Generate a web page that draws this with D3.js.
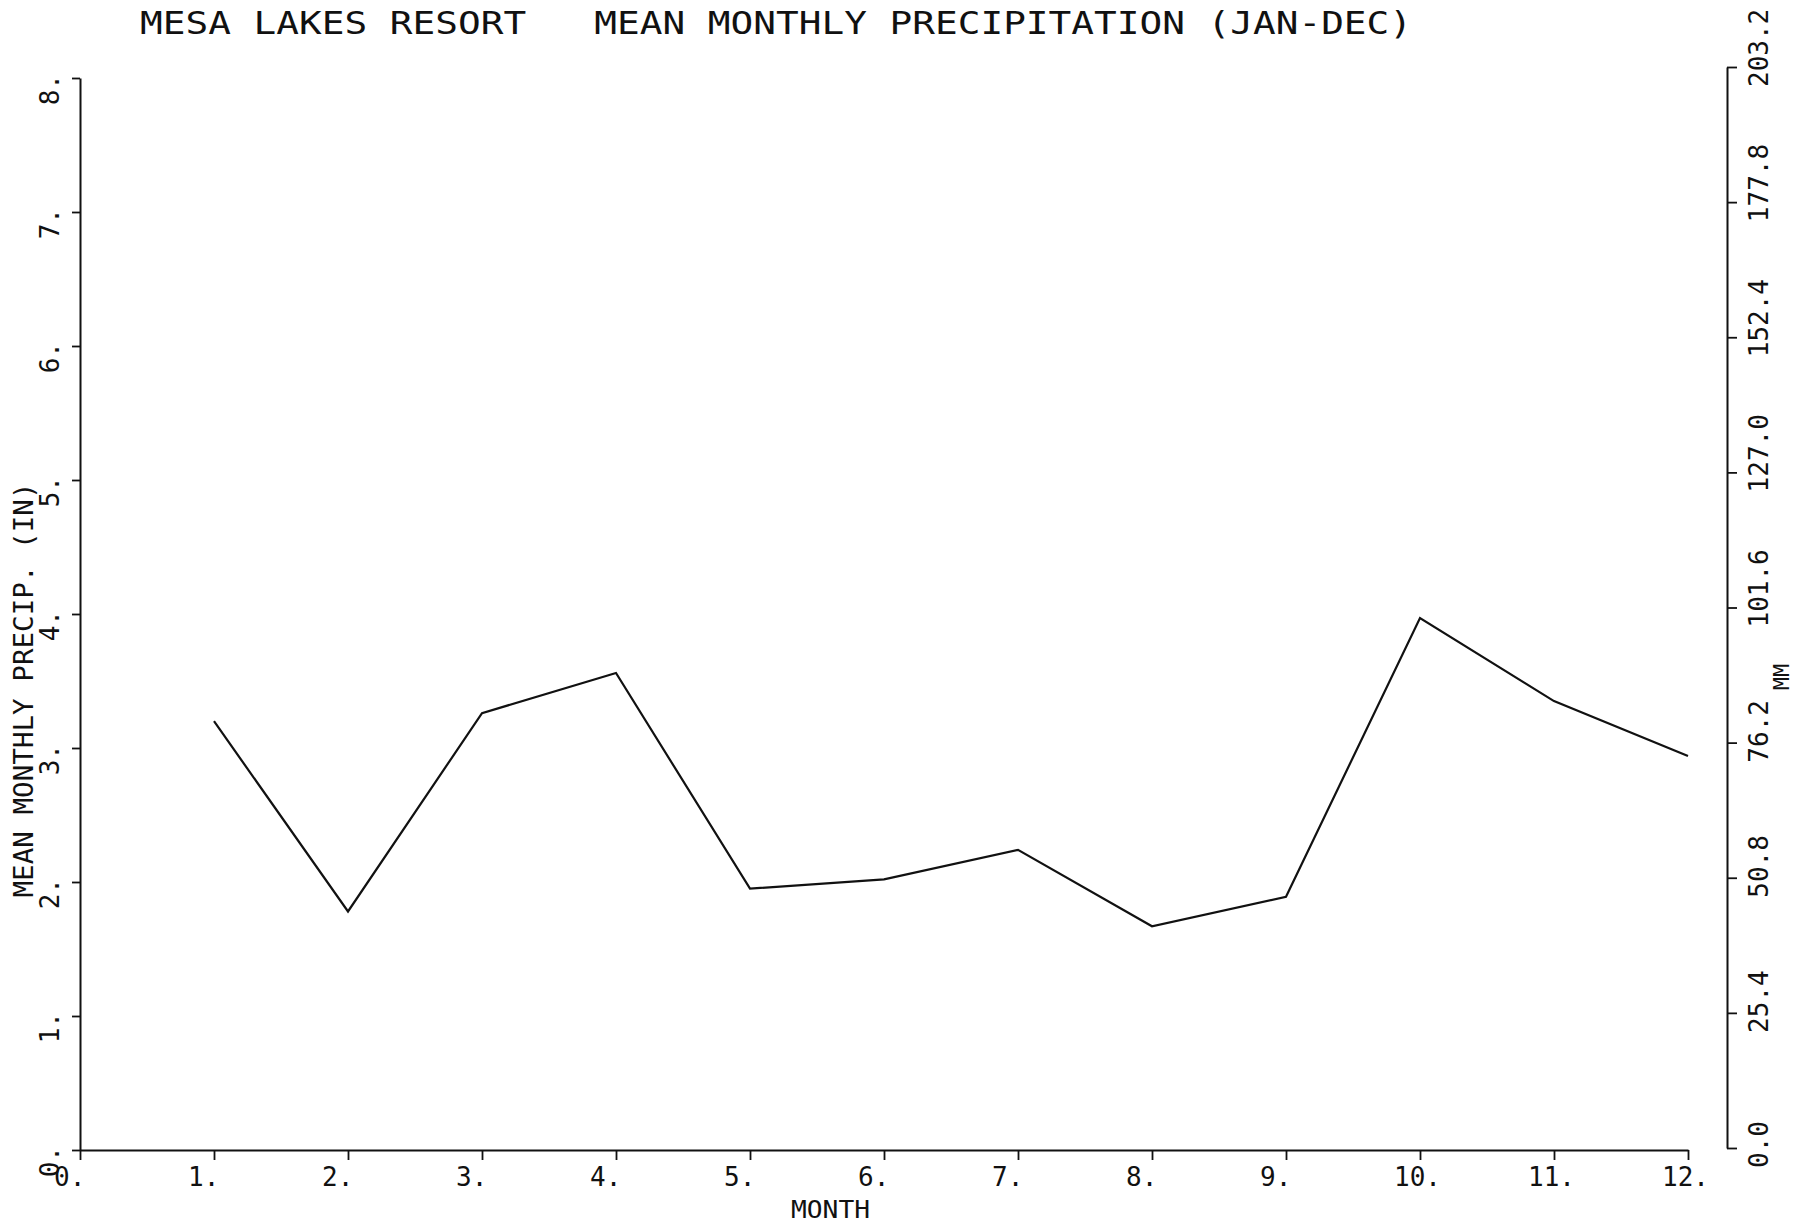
<!DOCTYPE html>
<html><head><meta charset="utf-8">
<script src="https://cdn.jsdelivr.net/npm/d3@7"></script>
<style>body{margin:0;background:#fff}svg{display:block}</style>
</head><body>
<script>
const months = [1,2,3,4,5,6,7,8,9,10,11,12];
const precipIn = [3.20,1.78,3.26,3.56,1.95,2.02,2.24,1.67,1.89,3.97,3.35,2.94];
const xTicks = [0,1,2,3,4,5,6,7,8,9,10,11,12];
const xTickLabels = ["0.","1.","2.","3.","4.","5.","6.","7.","8.","9.","10.","11.","12."];
const yTicks = [0,1,2,3,4,5,6,7,8];
const yTickLabels = ["0.","1.","2.","3.","4.","5.","6.","7.","8."];
const mmTicks = [0,25.4,50.8,76.2,101.6,127.0,152.4,177.8,203.2];
const mmTickLabels = ["0.0","25.4","50.8","76.2","101.6","127.0","152.4","177.8","203.2"];
const titleText = "MESA LAKES RESORT   MEAN MONTHLY PRECIPITATION (JAN-DEC)";
const xTitle = "MONTH";
const yTitle = "MEAN MONTHLY PRECIP. (IN)";
const y2Title = "MM";

const W = 1802, H = 1224;
const FONT = "'DejaVu Sans Mono', monospace";
const svg = d3.select("body").append("svg").attr("width", W).attr("height", H)
  .style("font-family", FONT);

const x = d3.scaleLinear().domain([0, 12]).range([80, 1688]);
const y = d3.scaleLinear().domain([0, 8]).range([1150, 78]);
const yMM = d3.scaleLinear().domain([0, 203.2]).range([1148, 67]);

// Title
svg.append("text").attr("x", 140).attr("y", 34)
  .attr("font-size", 32).attr("textLength", 1272).attr("lengthAdjust", "spacingAndGlyphs")
  .attr("fill", "#111").style("white-space", "pre").attr("xml:space", "preserve")
  .text(titleText);

// X axis
const gx = svg.append("g").attr("transform", `translate(0,${y(0)})`)
  .call(d3.axisBottom(x).tickValues(xTicks).tickSizeInner(10).tickSizeOuter(0).tickFormat(""));
gx.select(".domain").attr("stroke", "#111").attr("stroke-width", 2);
gx.selectAll(".tick line").attr("stroke", "#111").attr("stroke-width", 1.8);
svg.append("g").selectAll("text").data(xTicks).join("text")
  .attr("x", d => x(d) - 26).attr("y", 1186)
  .attr("font-size", 26).attr("fill", "#111")
  .text((d, i) => xTickLabels[i]);
svg.append("text").attr("x", 791).attr("y", 1218)
  .attr("font-size", 24).attr("textLength", 79).attr("lengthAdjust", "spacingAndGlyphs")
  .attr("fill", "#111").text(xTitle);

// Left Y axis
const gy = svg.append("g").attr("transform", `translate(${x(0)},0)`)
  .call(d3.axisLeft(y).tickValues(yTicks).tickSizeInner(8).tickSizeOuter(0).tickFormat(""));
gy.select(".domain").attr("stroke", "#111").attr("stroke-width", 2);
gy.selectAll(".tick line").attr("stroke", "#111").attr("stroke-width", 1.8);
svg.append("g").selectAll("text").data(yTicks).join("text")
  .attr("transform", d => `translate(59,${y(d) - 4}) rotate(-90)`)
  .attr("text-anchor", "end").attr("font-size", 26).attr("fill", "#111")
  .text((d, i) => yTickLabels[i]);
svg.append("text").attr("transform", `translate(33,690) rotate(-90)`)
  .attr("text-anchor", "middle").attr("font-size", 27)
  .attr("textLength", 415).attr("lengthAdjust", "spacingAndGlyphs")
  .attr("fill", "#111").text(yTitle);

// Right MM axis
const gr = svg.append("g").attr("transform", `translate(1727,0)`)
  .call(d3.axisRight(yMM).tickValues(mmTicks).tickSizeInner(10).tickSizeOuter(0).tickFormat(""));
gr.select(".domain").attr("stroke", "#111").attr("stroke-width", 2);
gr.selectAll(".tick line").attr("stroke", "#111").attr("stroke-width", 1.8);
svg.append("g").selectAll("text").data(mmTicks).join("text")
  .attr("transform", d => `translate(1768,${yMM(d) + 20}) rotate(-90)`)
  .attr("text-anchor", "start").attr("font-size", 26).attr("fill", "#111")
  .text((d, i) => mmTickLabels[i]);
svg.append("text").attr("transform", `translate(1789,677) rotate(-90)`)
  .attr("text-anchor", "middle").attr("font-size", 22).attr("fill", "#111").text(y2Title);

// Data line
const line = d3.line().x((d, i) => x(months[i])).y(d => y(d));
svg.append("path").datum(precipIn).attr("d", line)
  .attr("fill", "none").attr("stroke", "#111").attr("stroke-width", 2.2)
  .attr("stroke-linejoin", "miter");
</script>
</body></html>
